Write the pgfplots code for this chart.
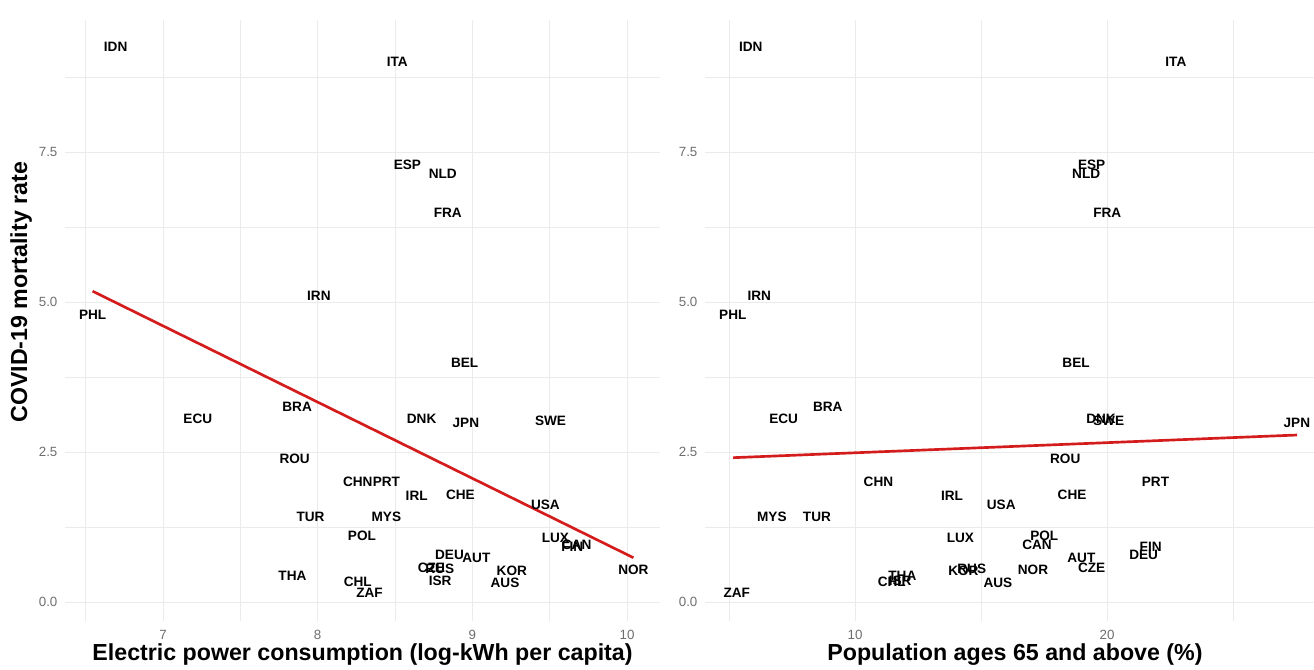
\documentclass[border=0pt]{standalone}
\usepackage{pgfplots}
\pgfplotsset{compat=1.18}
\usepackage{pgfplotstable}
\usepackage{fontspec}
\setmainfont{Liberation Sans}
\definecolor{gridc}{HTML}{EBEBEB}
\definecolor{tickc}{HTML}{6E6E6E}
\definecolor{fitred}{HTML}{D41C1C}
\pgfplotstableread{
lab x y
IDN 6.694 9.245
ITA 8.515 9.005
ESP 8.580 7.283
NLD 8.809 7.139
FRA 8.841 6.478
IRN 8.008 5.105
PHL 6.545 4.783
BEL 8.950 3.978
BRA 7.867 3.255
ECU 7.225 3.045
DNK 8.672 3.045
JPN 8.958 2.978
SWE 9.505 3.012
ROU 7.851 2.378
CHN 8.259 2.005
PRT 8.444 2.005
IRL 8.640 1.772
CHE 8.923 1.788
USA 9.472 1.617
TUR 7.954 1.422
MYS 8.444 1.422
POL 8.286 1.100
LUX 9.537 1.062
CAN 9.674 0.950
FIN 9.646 0.912
DEU 8.852 0.778
AUT 9.026 0.738
CZE 8.735 0.572
RUS 8.789 0.545
KOR 9.255 0.522
NOR 10.041 0.533
THA 7.837 0.438
ISR 8.792 0.355
CHL 8.259 0.328
AUS 9.211 0.312
ZAF 8.335 0.155
}\elec
\pgfplotstableread{
lab x y
IDN 5.865 9.245
ITA 22.73 9.005
ESP 19.39 7.283
NLD 19.17 7.139
FRA 20.01 6.478
IRN 6.20 5.105
PHL 5.15 4.783
BEL 18.77 3.978
BRA 8.92 3.255
ECU 7.17 3.045
DNK 19.76 3.045
SWE 20.06 3.012
JPN 27.53 2.978
ROU 18.34 2.378
CHN 10.93 2.005
PRT 21.92 2.005
IRL 13.85 1.772
CHE 18.61 1.788
USA 15.80 1.617
MYS 6.70 1.422
TUR 8.49 1.422
LUX 14.18 1.062
POL 17.51 1.100
CAN 17.22 0.950
FIN 21.73 0.912
DEU 21.45 0.778
AUT 18.98 0.738
CZE 19.39 0.572
KOR 14.30 0.522
RUS 14.63 0.545
NOR 17.06 0.533
THA 11.88 0.438
CHL 11.46 0.328
ISR 11.79 0.355
AUS 15.67 0.312
ZAF 5.31 0.155
}\age
\begin{document}
\begin{tikzpicture}
\path[use as bounding box] (0,0) rectangle (985.5pt,501.75pt);
\pgfplotsset{
  panel/.style={
    scale only axis, height=450.75pt,
    anchor=south west,
    ymin=-0.317, ymax=9.7,
    ytick={0,2.5,5,7.5}, yticklabels={0.0,2.5,5.0,7.5},
    minor ytick={1.25,3.75,6.25,8.75},
    grid=both,
    major grid style={draw=gridc, line width=0.7pt},
    minor grid style={draw=gridc, line width=0.6pt},
    axis line style={draw=none},
    tick style={draw=none},
    major tick length=0pt, minor tick length=0pt,
    tick label style={font=\fontsize{10}{10}\selectfont, text=tickc},
    xticklabel style={anchor=north, inner sep=0pt, yshift=-6.5pt},
    yticklabel style={anchor=east, inner sep=0pt, xshift=-5.5pt},
    label style={font=\fontsize{17.4}{18}\selectfont\bfseries},
    xlabel style={at={(axis description cs:0.5,0)}, anchor=center, yshift=-25.5pt},
    clip=false,
  },
  labs/.style={only marks, mark=none, point meta=explicit symbolic, nodes near coords,
    every node near coord/.append style={anchor=center, inner sep=0pt,
      font=\fontsize{10.2}{10}\selectfont\bfseries, text=black}},
}
\begin{axis}[panel, at={(48.75pt,36pt)}, width=446.25pt,
  xmin=6.3665, xmax=10.213,
  xtick={7,8,9,10}, xticklabels={7,8,9,10},
  minor xtick={6.5,7.5,8.5,9.5},
  xlabel={Electric power consumption (log-kWh per capita)},
  ylabel={COVID-19 mortality rate},
  ylabel style={at={(axis description cs:-0.0739,0.547)}, anchor=center},
]
\addplot[labs] table[x=x, y=y, meta=lab] {\elec};
\addplot[fitred, line width=2pt] coordinates {(6.545,5.18) (10.041,0.738)};
\end{axis}
\begin{axis}[panel, at={(528.75pt,36pt)}, width=456.75pt,
  xmin=4.048, xmax=28.21,
  xtick={10,20}, xticklabels={10,20},
  minor xtick={5,15,25},
  xlabel={Population ages 65 and above (\%)},
  xlabel style={at={(axis description cs:0.509,0)}},
]
\addplot[labs] table[x=x, y=y, meta=lab] {\age};
\addplot[fitred, line width=2pt] coordinates {(5.16,2.405) (27.54,2.783)};
\end{axis}
\end{tikzpicture}
\end{document}
